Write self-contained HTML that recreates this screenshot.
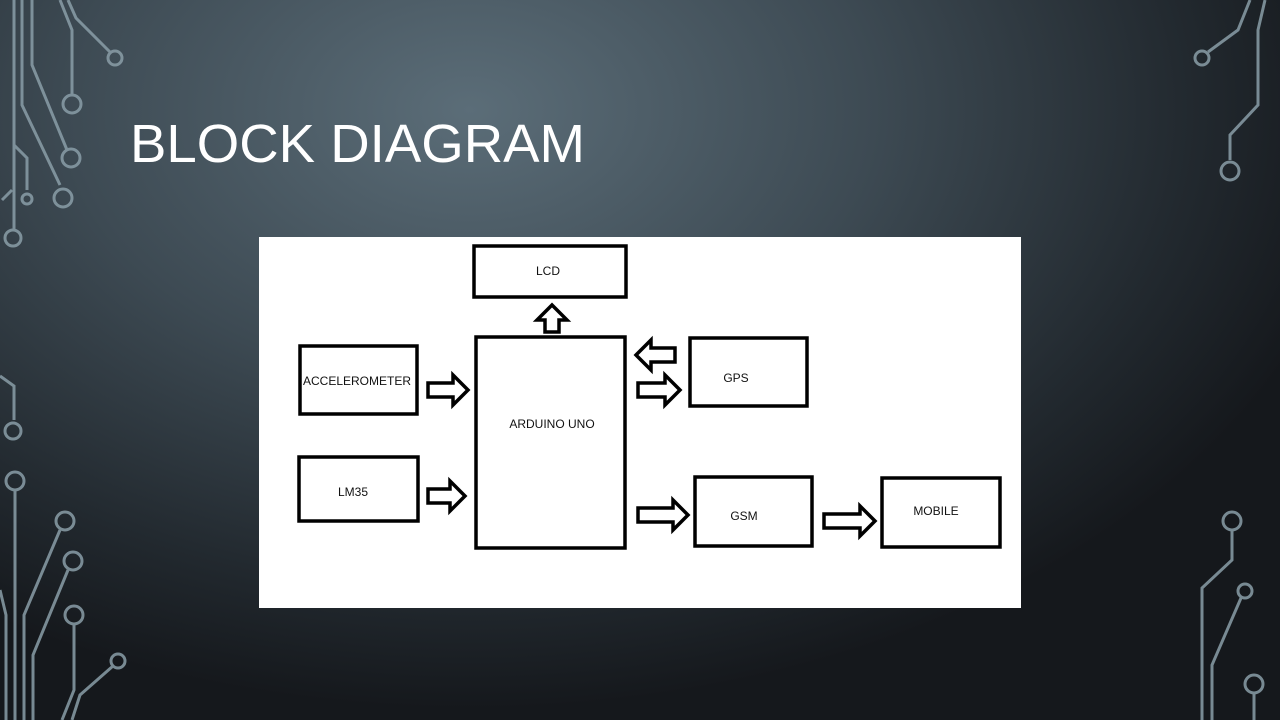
<!DOCTYPE html>
<html><head><style>
html,body{margin:0;padding:0;width:1280px;height:720px;overflow:hidden}
body{background:radial-gradient(ellipse 900px 600px at 470px 110px,#5b6d78 0%,#3d4a53 45%,#22292f 80%,#15181c 100%)}
</style></head><body>
<svg width="1280" height="720" style="position:absolute;left:0;top:0" xmlns="http://www.w3.org/2000/svg">
<g fill="none" stroke="#8a9ea8" stroke-width="3" opacity="0.85">
<path d="M14,0 V231"/><circle cx="13" cy="238" r="8"/>
<path d="M22,0 V105 L60,185"/><circle cx="63" cy="198" r="9"/>
<path d="M32,0 V65 L67,150"/><circle cx="71" cy="158" r="9"/>
<path d="M60,0 L72,30 V95"/><circle cx="72" cy="104" r="9"/>
<path d="M68,0 L76,18 L110,52"/><circle cx="115" cy="58" r="7"/>
<path d="M14,145 L27,158 V190"/><circle cx="27" cy="199" r="5"/>
<path d="M2,200 L12,190"/>
<path d="M0,376 L14,386 V420"/><circle cx="13" cy="431" r="8"/>
<circle cx="15" cy="481" r="9"/><path d="M15,490 V720"/>
<path d="M0,590 L6,615 V720"/>
<circle cx="65" cy="521" r="9"/><path d="M60,530 L24,615 V720"/>
<circle cx="73" cy="561" r="9"/><path d="M68,570 L33,655 V720"/>
<circle cx="74" cy="615" r="9"/><path d="M74,624 V690 L62,720"/>
<circle cx="118" cy="661" r="7"/><path d="M113,666 L80,695 L72,720"/>
<path d="M1250,0 L1238,30 L1208,52"/><circle cx="1202" cy="58" r="7"/>
<path d="M1265,0 L1258,30 V105 L1230,135 V160"/><circle cx="1230" cy="171" r="9"/>
<circle cx="1232" cy="521" r="9"/><path d="M1232,530 V560 L1202,588 V720"/>
<circle cx="1245" cy="591" r="7"/><path d="M1241,598 L1212,665 V720"/>
<circle cx="1254" cy="684" r="9"/><path d="M1254,693 V720"/>
</g>
<text x="130" y="162" fill="#ffffff" font-family="Liberation Sans, sans-serif" font-size="54" textLength="455" lengthAdjust="spacingAndGlyphs">BLOCK DIAGRAM</text>
<rect x="259" y="237" width="762" height="371" fill="#ffffff"/>
<g fill="none" stroke="#000" stroke-width="3.5">
<rect x="474" y="246" width="152" height="51"/>
<rect x="476" y="337" width="149" height="211"/>
<rect x="300" y="346" width="117" height="68"/>
<rect x="299" y="457" width="119" height="64"/>
<rect x="690" y="338" width="117" height="68"/>
<rect x="695" y="477" width="117" height="69"/>
<rect x="882" y="478" width="118" height="69"/>
<path d="M428,383 H453 V375 L468,390 L453,405 V397 H428 Z"/>
<path d="M428,489 H450 V481 L465,496 L450,511 V503 H428 Z"/>
<path d="M638,383 H665 V375 L680,390 L665,405 V397 H638 Z"/>
<path d="M638,508 H673 V500 L688,515 L673,530 V522 H638 Z"/>
<path d="M824,514 H860 V506 L875,521 L860,536 V528 H824 Z"/>
<path d="M675,348 H651 V340 L636,355 L651,370 V362 H675 Z"/>
<path d="M545,332 V320 H537 L552,305 L567,320 H559 V332 Z"/>
</g>
<g font-family="Liberation Sans, sans-serif" font-size="12" fill="#111" text-anchor="middle">
<text x="548" y="275">LCD</text>
<text x="552" y="428">ARDUINO UNO</text>
<text x="357" y="385">ACCELEROMETER</text>
<text x="353" y="496">LM35</text>
<text x="736" y="382">GPS</text>
<text x="744" y="520">GSM</text>
<text x="936" y="515">MOBILE</text>
</g>
</svg>
</body></html>
